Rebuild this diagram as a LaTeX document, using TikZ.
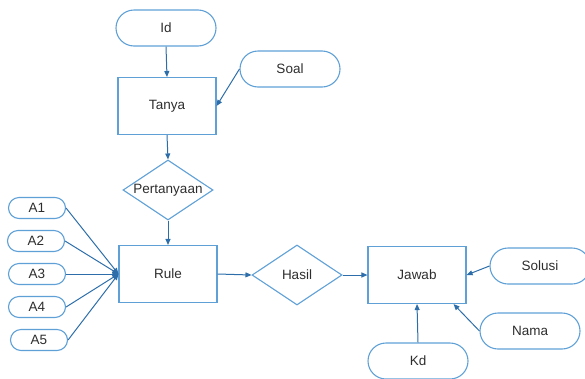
\documentclass[tikz,border=0pt]{standalone}
\usepackage{fontspec}
\setmainfont{Liberation Sans}
\usetikzlibrary{shapes.geometric,arrows.meta}
\definecolor{edgeblue}{RGB}{95,160,215}
\definecolor{linkblue}{RGB}{45,110,170}
\definecolor{txt}{RGB}{45,45,45}

\begin{document}
\begin{tikzpicture}[x=1pt,y=-1pt,
  font=\fontsize{13.5}{15}\selectfont,
  entity/.style={draw=edgeblue, line width=1.1pt, minimum width=98pt, minimum height=57pt, inner sep=0pt, text=txt},
  attr/.style={draw=edgeblue, line width=1.1pt, rounded corners=18pt, minimum width=100pt, minimum height=36pt, inner sep=0pt, text=txt},
  smallattr/.style={draw=edgeblue, line width=1.1pt, rounded corners=10.5pt, minimum width=57pt, minimum height=21pt, inner sep=0pt, text=txt},
  relation/.style={draw=edgeblue, line width=1.1pt, diamond, aspect=1.5, minimum width=90pt, minimum height=60pt, inner sep=0pt, text=txt},
  link/.style={draw=linkblue, line width=1pt, -{Triangle[length=6pt,width=5pt]}}]

\useasboundingbox (0,0) rectangle (585,378);

% entities
\node[entity] (tanya) at (167,106) {Tanya};
\node[entity] (rule)  at (168,274) {Rule};
\node[entity] (jawab) at (417,275) {Jawab};

% relations
\node[relation] (pert)  at (168,190) {Pertanyaan};
\node[relation] (hasil) at (297,275) {Hasil};

% attributes
\node[attr] (id)     at (166,28)  {Id};
\node[attr] (soal)   at (290,69)  {Soal};
\node[attr] (solusi) at (540,266) {Solusi};
\node[attr] (nama)   at (530,331) {Nama};
\node[attr] (kd)     at (418,361) {Kd};

\node[smallattr] (a1) at (37,208) {A1};
\node[smallattr] (a2) at (36,241) {A2};
\node[smallattr] (a3) at (37,274) {A3};
\node[smallattr] (a4) at (37,307) {A4};
\node[smallattr] (a5) at (39,340) {A5};

% connectors
\draw[link] (id.south) -- (tanya.north);
\draw[link] (soal.west) -- (tanya.east);
\draw[link] (tanya.south) -- (pert.north);
\draw[link] (pert.south) -- (rule.north);
\draw[link] (rule.east) -- (hasil.west);
\draw[link] (hasil.east) -- (jawab.west);
\draw[link] (solusi.west) -- (jawab.east);
\draw[link] (nama.west) -- ([xshift=-13pt]jawab.south east);
\draw[link] (kd.north) -- (jawab.south);
\foreach \a in {a1,a2,a3,a4,a5}
  \draw[link] (\a.east) -- (rule.west);
\end{tikzpicture}
\end{document}
